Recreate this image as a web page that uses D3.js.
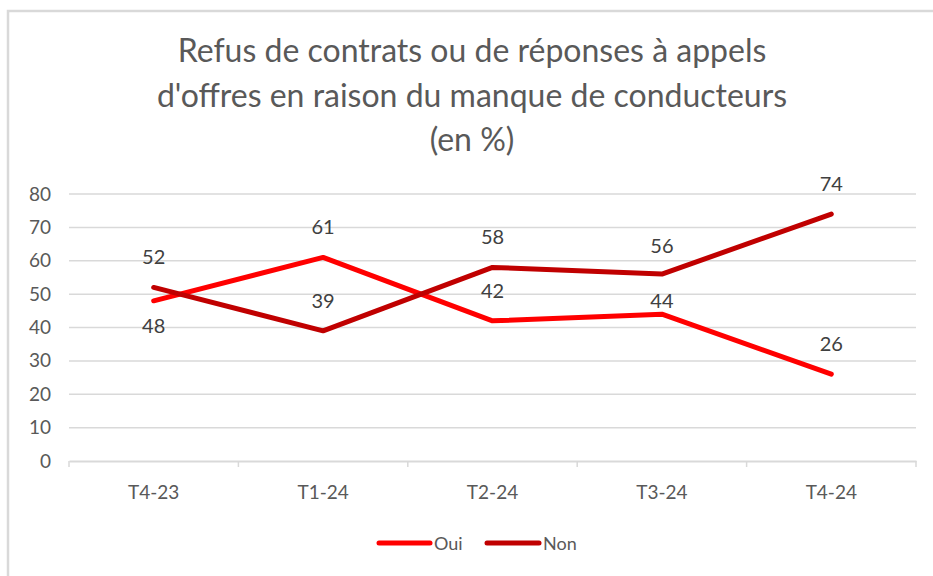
<!DOCTYPE html>
<html><head><meta charset="utf-8">
<script src="https://cdn.jsdelivr.net/npm/d3@7"></script>
<style>html,body{margin:0;padding:0;background:#fff;}svg{display:block;}</style>
</head><body>
<svg id="c" width="933" height="576"></svg>
<script>
const categories = ["T4-23", "T1-24", "T2-24", "T3-24", "T4-24"];
const oui = [48, 61, 42, 44, 26];
const non = [52, 39, 58, 56, 74];
const yTicks = [0, 10, 20, 30, 40, 50, 60, 70, 80];
const titleLines = ["Refus de contrats ou de réponses à appels", "d'offres en raison du manque de conducteurs", "(en %)"];
const seriesNames = ["Oui", "Non"];
// label placement (pixels relative to point)
const ouiLabelDy = [24, -31, -31, -14, -31];
const nonLabelDy = [-31, -31, -31, -29, -31];

const FONT = "Lato, 'Open Sans', sans-serif";
const TXT = "#595959";
const GRID = "#d9d9d9";
const colors = {Oui: "#ff0000", Non: "#c00000"};

const svg = d3.select("#c");
// outer border
svg.append("path").attr("d", "M8,576 V11 H933").attr("fill", "none").attr("stroke", GRID).attr("stroke-width", 2.5);

// title
const tg = svg.append("g");
const titleY = [62, 107, 151];
titleLines.forEach((t, i) => {
  tg.append("text").attr("x", 472).attr("y", titleY[i]).attr("text-anchor", "middle")
    .attr("font-family", FONT).attr("font-size", 29).attr("fill", TXT).text(t);
});
// fit second line width
const l2 = tg.selectAll("text").nodes()[1];
const w = l2.getComputedTextLength();
const fs = 29 * 671 / w;
tg.selectAll("text").attr("font-size", Math.min(32, Math.max(24, fs)));

const x = d3.scaleBand().domain(categories).range([69, 916]).padding(0);
const y = d3.scaleLinear().domain([0, 80]).range([461, 194]);
const cx = d => x(d) + x.bandwidth() / 2;

// gridlines
svg.append("g").selectAll("line").data(yTicks.filter(d => d > 0)).join("line")
  .attr("x1", 69).attr("x2", 916).attr("y1", d => y(d)).attr("y2", d => y(d))
  .attr("stroke", GRID).attr("stroke-width", 1.5);

// y axis labels
const yAxis = d3.axisLeft(y).tickValues(yTicks).tickSize(0).tickPadding(0);
const yg = svg.append("g").attr("transform", "translate(51,0)").call(yAxis);
yg.select(".domain").remove();
yg.selectAll("text").attr("font-family", FONT).attr("font-size", 19).attr("fill", TXT);

// x axis
const xAxis = d3.axisBottom(x).tickSize(0).tickPadding(0);
const xg = svg.append("g").attr("transform", "translate(0,461)").call(xAxis);
xg.select(".domain").attr("stroke", GRID).attr("stroke-width", 2);
xg.selectAll(".tick text").attr("font-family", FONT).attr("font-size", 19).attr("fill", TXT).attr("dy", 0).attr("y", 38);
xg.selectAll(".tick line").remove();
// boundary ticks
const bounds = categories.map(c => x(c)).concat([x.range()[1]]);
xg.selectAll("line.bt").data(bounds).join("line").attr("class", "bt")
  .attr("x1", d => d).attr("x2", d => d).attr("y1", 0).attr("y2", 6)
  .attr("stroke", GRID).attr("stroke-width", 1.5);

// lines
const line = d3.line().x((d, i) => cx(categories[i])).y(d => y(d));
const series = [{name: "Oui", values: oui, dy: ouiLabelDy}, {name: "Non", values: non, dy: nonLabelDy}];
series.forEach(s => {
  svg.append("path").datum(s.values).attr("d", line).attr("fill", "none")
    .attr("stroke", colors[s.name]).attr("stroke-width", 5)
    .attr("stroke-linecap", "round").attr("stroke-linejoin", "round");
});
// data labels
series.forEach(s => {
  svg.append("g").selectAll("text").data(s.values).join("text")
    .attr("x", (d, i) => cx(categories[i])).attr("y", (d, i) => y(d) + s.dy[i])
    .attr("text-anchor", "middle").attr("dominant-baseline", "central")
    .attr("font-family", FONT).attr("font-size", 20).attr("fill", "#404040")
    .text(d => d);
});

// legend
const leg = [{name: "Oui", x1: 379, x2: 430, tx: 434}, {name: "Non", x1: 487, x2: 539, tx: 543}];
const lg = svg.append("g");
leg.forEach(l => {
  lg.append("line").attr("x1", l.x1).attr("x2", l.x2).attr("y1", 543).attr("y2", 543)
    .attr("stroke", colors[l.name]).attr("stroke-width", 5).attr("stroke-linecap", "round");
  lg.append("text").attr("x", l.tx).attr("y", 543).attr("dominant-baseline", "central")
    .attr("font-family", FONT).attr("font-size", 18).attr("fill", TXT).text(l.name);
});
</script>
</body></html>
